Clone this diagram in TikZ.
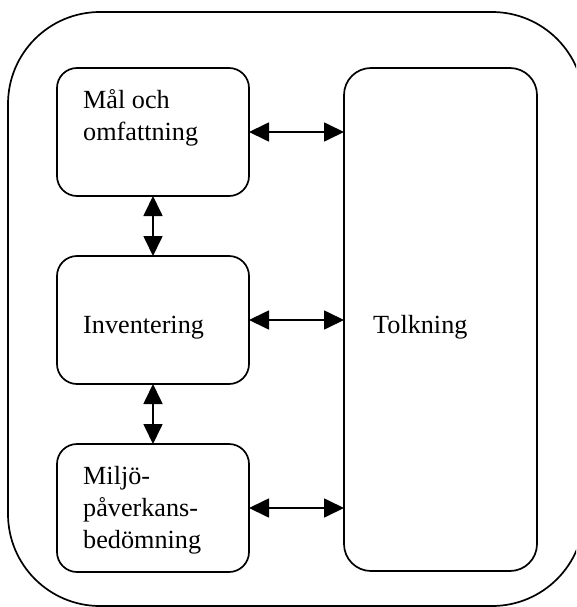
\documentclass[tikz,border=0pt]{standalone}
\usepackage{fontspec}
\setmainfont{Liberation Serif}
\usetikzlibrary{arrows.meta}
\begin{document}
\begin{tikzpicture}[x=1pt,y=-1pt,
  box/.style={draw, line width=1.7pt, rounded corners=20pt, minimum width=192pt,
    minimum height=128pt, inner sep=0pt, outer sep=0pt, anchor=north west},
  txt/.style={font=\fontsize{26.2}{31.7}\selectfont, inner sep=0pt, align=left, anchor=base west},
  link/.style={line width=1.7pt,
    {Triangle[length=20pt,width=19pt]}-{Triangle[length=20pt,width=19pt]}}
]
\useasboundingbox (0,0) rectangle (576,607);
% outer frame, partly running off the page on the right
\begin{scope}
  \clip (0,0) rectangle (576,607);
  \draw[line width=1.7pt, rounded corners=92pt] (8,12) rectangle (584,606);
\end{scope}

% boxes
\node[box] (mal) at (57,68) {};
\node[box] (inv) at (57,256) {};
\node[box] (milj) at (57,444) {};
\node[box, rounded corners=27pt, minimum width=193pt, minimum height=503pt] (tolk) at (344,68) {};

% texts (base anchor sits on the last line)
\node[txt] (malt) at (83,140) {Mål och\\omfattning};
\node[txt] (invt) at (83,333) {Inventering};
\node[txt] (miljt) at (83,548) {Miljö-\\påverkans-\\bedömning};
\node[txt] (tolkt) at (373,333) {Tolkning};

% connectors
\draw[link] (mal.east) -- (mal.east -| tolk.west);
\draw[link] (inv.east) -- (inv.east -| tolk.west);
\draw[link] (milj.east) -- (milj.east -| tolk.west);
\draw[link] (mal.south) -- (inv.north);
\draw[link] (inv.south) -- (milj.north);
\end{tikzpicture}
\end{document}
